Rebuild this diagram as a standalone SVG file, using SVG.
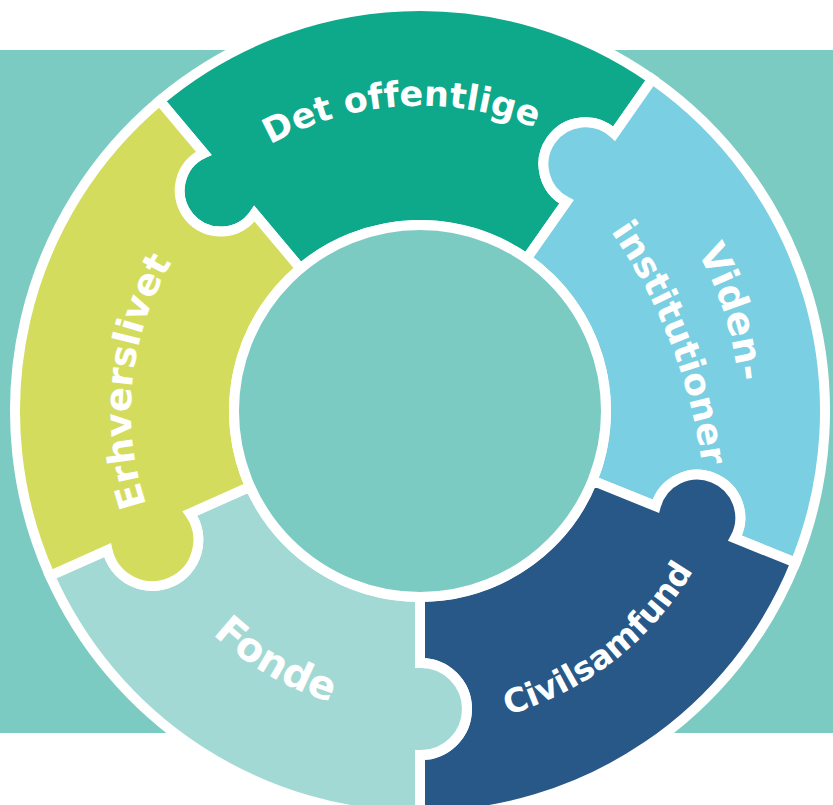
<svg xmlns="http://www.w3.org/2000/svg" width="833" height="805" viewBox="0 0 833 805">
<style>
.piece{stroke:#ffffff;stroke-width:10;stroke-linejoin:miter}
.lbl{font-family:"DejaVu Sans","Verdana",sans-serif;font-weight:bold;fill:#ffffff;font-variant-ligatures:none}
</style>
<defs>
<path id="tp-det" d="M 112.62 430.34 A 308 308 0 0 1 727.38 391.66"/>
<path id="tp-viden1" d="M 323.24 105.98 A 320 320 0 0 1 516.76 716.02"/>
<path id="tp-viden2" d="M 611.5 232.4 A 540 540 0 0 1 702.0 464.4"/>
<path id="tp-civ" d="M 169.13 606.41 A 318 318 0 0 0 670.87 215.59"/>
<path id="tp-fonde" d="M 155.0 258.0 A 306 306 0 0 0 685.0 564.0"/>
<path id="tp-erh" d="M 389.69 699.41 A 290 290 0 0 1 450.31 122.59"/>
</defs>
<g id="background">
<rect x="0" y="0" width="833" height="805" fill="#ffffff"/>
<rect x="0" y="50" width="833" height="683" fill="#7ccbc3"/>
</g>
<g id="connectors"/>
<g id="node-det-offentlige">
<path class="piece" fill="#0ea88b" d="M 300.44 268.52 L 254.48 213.74 A 41 41 0 1 1 203.70 153.23 L 159.67 100.75 A 405 405 0 0 1 652.30 79.24 L 614.20 133.66 A 42 42 0 1 0 566.51 201.77 L 526.69 258.64 A 186 186 0 0 0 300.44 268.52 Z"/>
<text class="lbl" font-size="35"><textPath href="#tp-det" startOffset="50%" text-anchor="middle">Det offentlige</textPath></text>
</g>
<g id="node-videninstitutioner">
<path class="piece" fill="#7acfe2" d="M 526.69 258.64 L 566.51 201.77 A 42 42 0 1 1 614.20 133.66 L 652.30 79.24 A 405 405 0 0 1 795.51 562.72 L 734.98 538.26 A 43 43 0 1 0 655.77 506.26 L 592.46 480.68 A 186 186 0 0 0 526.69 258.64 Z"/>
<text class="lbl" font-size="38"><textPath href="#tp-viden1" startOffset="50%" text-anchor="middle">Viden-</textPath></text>
<text class="lbl" font-size="36"><textPath href="#tp-viden2" startOffset="50%" text-anchor="middle">institutioner</textPath></text>
</g>
<g id="node-civilsamfund">
<path class="piece" fill="#285887" d="M 592.46 480.68 L 655.77 506.26 A 43 43 0 1 1 734.98 538.26 L 795.51 562.72 A 405 405 0 0 1 420 816 L 420 754.99 A 46 46 0 1 0 420 663.01 L 420 597 A 186 186 0 0 0 592.46 480.68 Z"/>
<text class="lbl" font-size="33"><textPath href="#tp-civ" startOffset="50%" text-anchor="middle">Civilsamfund</textPath></text>
</g>
<g id="node-fonde">
<path class="piece" fill="#a3d9d4" d="M 420 597 L 420 663.01 A 46 46 0 1 1 420 754.99 L 420 816 A 405 405 0 0 1 50.01 575.73 L 107.46 550.15 A 46 46 0 1 0 189.88 513.45 L 250.08 486.65 A 186 186 0 0 0 420 597 Z"/>
<text class="lbl" font-size="40"><textPath href="#tp-fonde" startOffset="50%" text-anchor="middle">Fonde</textPath></text>
</g>
<g id="node-erhvervslivet">
<path class="piece" fill="#d4dc5e" d="M 250.08 486.65 L 189.88 513.45 A 46 46 0 1 1 107.46 550.15 L 50.01 575.73 A 405 405 0 0 1 159.67 100.75 L 203.70 153.23 A 41 41 0 1 0 254.48 213.74 L 300.44 268.52 A 186 186 0 0 0 250.08 486.65 Z"/>
<text class="lbl" font-size="37"><textPath href="#tp-erh" startOffset="50%" text-anchor="middle">Erhverslivet</textPath></text>
</g>
<g id="node-center">
<circle cx="420" cy="411" r="186" fill="#7ccbc3" stroke="#ffffff" stroke-width="10"/>
</g>
</svg>
